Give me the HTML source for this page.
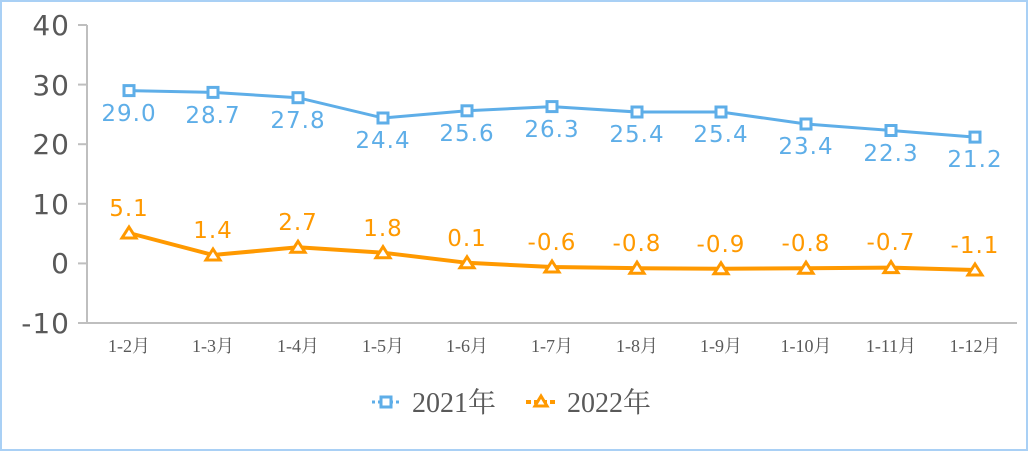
<!DOCTYPE html><html><head><meta charset="utf-8"><style>body{margin:0;background:#fff}svg{display:block}</style></head><body>
<svg width="1028" height="452" xmlns="http://www.w3.org/2000/svg">
<rect x="1" y="1" width="1026" height="449" fill="#fff" stroke="#a9d0f5" stroke-width="2"/>
<g stroke="#bfbfbf" stroke-width="2"><line x1="87" y1="25" x2="87" y2="323"/><line x1="87" y1="323" x2="1017" y2="323"/>
<line x1="78" y1="25" x2="87" y2="25"/><line x1="78" y1="84.6" x2="87" y2="84.6"/><line x1="78" y1="144.2" x2="87" y2="144.2"/><line x1="78" y1="203.8" x2="87" y2="203.8"/><line x1="78" y1="263.4" x2="87" y2="263.4"/><line x1="78" y1="323" x2="87" y2="323"/></g>
<g font-family="DejaVu Sans, sans-serif" font-size="28" fill="#595959" text-anchor="end" letter-spacing="1">
<text x="70" y="35">40</text><text x="70" y="95">30</text><text x="70" y="154">20</text><text x="70" y="214">10</text><text x="70" y="273">0</text><text x="70" y="333">-10</text></g>
<g font-family="Liberation Serif, Noto Serif CJK SC, serif" font-size="18" fill="#595959" text-anchor="middle">
<text x="129" y="352">1-2月</text><text x="213" y="352">1-3月</text><text x="298" y="352">1-4月</text><text x="383" y="352">1-5月</text><text x="467" y="352">1-6月</text><text x="552" y="352">1-7月</text><text x="637" y="352">1-8月</text><text x="721" y="352">1-9月</text><text x="806" y="352">1-10月</text><text x="891" y="352">1-11月</text><text x="975" y="352">1-12月</text></g>
<polyline fill="none" stroke="#5eaee8" stroke-width="3" points="129,90.6 213,92.4 298,97.7 383,118 467,110.8 552,106.6 637,112 721,112 806,124 891,130.5 975,137.1"/>
<g fill="#fff" stroke="#5eaee8" stroke-width="3">
<rect x="124" y="85.6" width="10" height="10"/><rect x="208" y="87.4" width="10" height="10"/><rect x="293" y="92.7" width="10" height="10"/><rect x="378" y="113" width="10" height="10"/><rect x="462" y="105.8" width="10" height="10"/><rect x="547" y="101.6" width="10" height="10"/><rect x="632" y="107" width="10" height="10"/><rect x="716" y="107" width="10" height="10"/><rect x="801" y="119" width="10" height="10"/><rect x="886" y="125.5" width="10" height="10"/><rect x="970" y="132.1" width="10" height="10"/></g>
<g font-family="DejaVu Sans, sans-serif" font-size="23" fill="#5eaee8" text-anchor="middle" letter-spacing="1">
<text x="129" y="121">29.0</text><text x="213" y="123">28.7</text><text x="298" y="128">27.8</text><text x="383" y="148">24.4</text><text x="467" y="141">25.6</text><text x="552" y="137">26.3</text><text x="637" y="142">25.4</text><text x="721" y="142">25.4</text><text x="806" y="154">23.4</text><text x="891" y="161">22.3</text><text x="975" y="167">21.2</text></g>
<polyline fill="none" stroke="#ff9900" stroke-width="4" points="129,233 213,255 298,247.3 383,252.7 467,262.8 552,267 637,268.2 721,268.8 806,268.2 891,267.6 975,270"/>
<g fill="#fff" stroke="#ff9900" stroke-width="3">
<path d="M129,227l7,11h-14z"/><path d="M213,249l7,11h-14z"/><path d="M298,241.3l7,11h-14z"/><path d="M383,246.7l7,11h-14z"/><path d="M467,256.8l7,11h-14z"/><path d="M552,261l7,11h-14z"/><path d="M637,262.2l7,11h-14z"/><path d="M721,262.8l7,11h-14z"/><path d="M806,262.2l7,11h-14z"/><path d="M891,261.6l7,11h-14z"/><path d="M975,264l7,11h-14z"/></g>
<g font-family="DejaVu Sans, sans-serif" font-size="23" fill="#ff9900" text-anchor="middle" letter-spacing="1">
<text x="129" y="216">5.1</text><text x="213" y="238">1.4</text><text x="298" y="230">2.7</text><text x="383" y="236">1.8</text><text x="467" y="246">0.1</text><text x="552" y="250">-0.6</text><text x="637" y="251">-0.8</text><text x="721" y="252">-0.9</text><text x="806" y="251">-0.8</text><text x="891" y="250">-0.7</text><text x="975" y="253">-1.1</text></g>
<line x1="372" y1="402" x2="399" y2="402" stroke="#5eaee8" stroke-width="3" stroke-dasharray="3,3"/>
<rect x="381" y="397" width="10" height="10" fill="#fff" stroke="#5eaee8" stroke-width="3"/>
<text x="412" y="412" font-family="Liberation Serif, Noto Serif CJK SC, serif" font-size="28" fill="#595959">2021年</text>
<line x1="526" y1="402" x2="555" y2="402" stroke="#ff9900" stroke-width="4" stroke-dasharray="5,3"/>
<path d="M541,396l6,10h-12z" fill="#fff" stroke="#ff9900" stroke-width="3"/>
<text x="567" y="412" font-family="Liberation Serif, Noto Serif CJK SC, serif" font-size="28" fill="#595959">2022年</text>
</svg></body></html>
